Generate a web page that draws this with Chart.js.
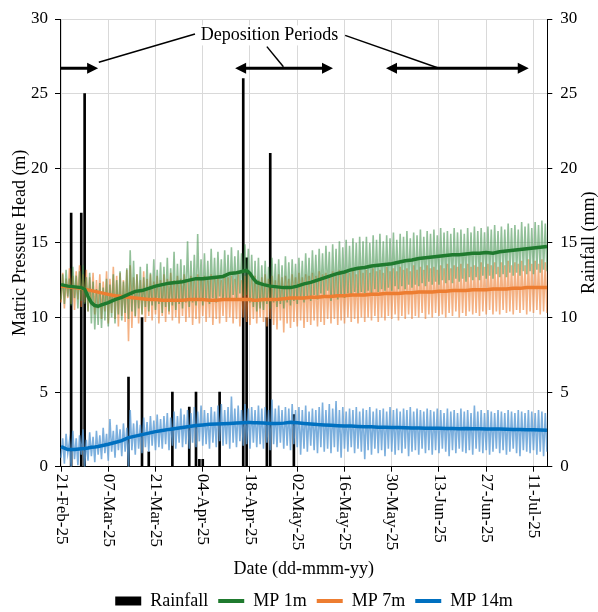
<!DOCTYPE html>
<html lang="en">
<head>
<meta charset="UTF-8">
<title>Matric pressure head and rainfall</title>
<script src="https://cdn.jsdelivr.net/npm/chart.js@4.4.1/dist/chart.umd.min.js"></script>
<style>
    body { margin: 0; background: #fff; }
    #wrap { width: 598px; height: 612px; }
</style>
</head>
<body>
<div id="wrap"><canvas id="grafico" width="598" height="612"></canvas></div>

<script>
// x axis: days since 21-Feb-25
const xTickDays = [0, 14, 28, 42, 56, 70, 84, 98, 112, 126, 140];
const xTickLabels = ['21-Feb-25', '07-Mar-25', '21-Mar-25', '04-Apr-25', '18-Apr-25', '02-May-25',
                     '16-May-25', '30-May-25', '13-Jun-25', '27-Jun-25', '11-Jul-25'];

// daily rainfall (mm)
const rainDays = [3, 6, 7, 20, 24, 26, 33, 38, 40, 41, 42, 47, 54, 55, 61, 62, 69];
const rainMm   = [17, 17, 25, 6, 10, 1, 5, 4, 5, 0.5, 0.5, 5, 26, 14, 10, 21, 3.5];

// raw sensor readings, daily high / low (m), day 0..144
const mp1Hi = [
    12.9, 13.2, 12.6, 13.4, 12.8, 13.1, 13.5, 12.7, 13.0, 12.4,
    11.9, 12.3, 12.0, 12.6, 12.2, 12.9, 12.5, 13.1, 12.4, 13.3,
    14.5, 13.8, 12.9, 13.4, 12.7, 13.6, 13.0, 13.9, 13.2, 13.7,
    13.4, 14.0, 13.3, 14.4, 13.6, 13.9, 13.5, 15.1, 13.8, 14.2,
    15.6, 13.9, 14.3, 13.8, 14.6, 14.0, 14.4, 13.9, 14.5, 14.2,
    14.7, 14.1, 14.5, 14.3, 14.9, 14.6, 14.2, 13.8, 14.0, 13.5,
    13.8, 13.4, 14.0, 13.6, 13.9, 13.5, 14.1, 13.7, 13.9, 13.6,
    14.0, 13.8, 14.3, 14.0, 14.5, 14.2, 14.6, 14.3, 14.8, 14.4,
    14.9, 14.6, 15.1, 14.7, 15.2, 14.8, 15.3, 15.0, 15.4, 15.1,
    15.4, 15.0, 15.5, 15.2, 15.6, 15.1, 15.5, 15.3, 15.7, 15.2,
    15.6, 15.4, 15.8, 15.3, 15.7, 15.5, 15.9, 15.4, 15.8, 15.6,
    15.9, 15.5, 16.0, 15.7, 15.8, 15.6, 16.0, 15.7, 15.9, 15.6,
    16.0, 15.7, 16.1, 15.8, 16.0, 15.7, 16.1, 15.9, 16.2, 15.8,
    16.1, 15.9, 16.3, 16.0, 16.2, 15.9, 16.4, 16.1, 16.3, 16.0,
    16.4, 16.2, 16.5, 16.3, 16.4
];
const mp1Lo = [
    11.2, 10.9, 11.4, 10.8, 11.3, 10.6, 11.1, 10.9, 10.4, 9.6,
    9.2, 9.5, 9.3, 9.8, 9.4, 10.0, 9.6, 10.2, 9.8, 10.3,
    9.9, 10.4, 10.1, 10.6, 10.2, 10.7, 10.4, 10.8, 10.5, 10.9,
    10.3, 10.7, 10.4, 10.8, 10.5, 10.9, 10.6, 11.0, 10.7, 11.0,
    10.8, 11.1, 10.8, 11.2, 10.9, 11.3, 11.0, 11.4, 11.1, 11.3,
    11.2, 11.5, 11.3, 11.6, 11.4, 11.5, 11.0, 10.7, 10.4, 10.6,
    10.5, 10.9, 10.6, 11.0, 10.7, 10.9, 10.6, 11.0, 10.8, 11.1,
    10.9, 11.2, 11.0, 11.4, 11.1, 11.5, 11.2, 11.6, 11.4, 11.8,
    11.1, 11.4, 11.2, 11.5, 11.3, 11.6, 11.4, 11.7, 11.5, 11.7,
    11.6, 11.8, 11.6, 11.9, 11.7, 11.9, 11.8, 12.0, 11.8, 12.1,
    11.9, 12.1, 11.9, 12.2, 12.0, 12.2, 12.1, 12.3, 12.1, 12.4,
    12.2, 12.4, 12.2, 12.5, 12.3, 12.5, 12.3, 12.6, 12.4, 12.6,
    12.4, 12.7, 12.5, 12.7, 12.5, 12.8, 12.6, 12.8, 12.6, 12.9,
    12.7, 12.9, 12.7, 13.0, 12.8, 13.0, 12.8, 13.1, 12.9, 13.1,
    12.9, 13.2, 13.0, 13.2, 13.1
];
const mp7Hi = [
    13.0, 12.6, 13.3, 12.8, 13.1, 13.5, 12.9, 13.2, 12.7, 13.0,
    12.5, 12.9, 12.4, 13.1, 12.6, 13.4, 12.8, 13.0, 12.5, 13.2,
    13.5, 12.7, 12.9, 12.5, 13.1, 12.6, 12.9, 12.4, 12.8, 12.5,
    12.9, 12.6, 13.0, 12.5, 12.8, 12.6, 12.9, 12.4, 12.8, 12.5,
    12.9, 12.6, 12.8, 12.5, 12.9, 12.6, 12.8, 12.5, 12.9, 12.7,
    12.8, 12.6, 12.9, 12.5, 12.8, 12.9, 12.6, 12.8, 12.5, 12.7,
    12.9, 12.6, 12.8, 12.5, 12.9, 12.7, 12.8, 12.6, 12.9, 12.7,
    13.0, 12.7, 12.9, 12.8, 13.0, 12.8, 13.1, 12.9, 13.0, 12.8,
    13.1, 12.9, 13.2, 12.9, 13.1, 13.0, 13.2, 12.9, 13.3, 13.0,
    13.2, 13.0, 13.3, 13.1, 13.2, 13.0, 13.4, 13.1, 13.3, 13.1,
    13.4, 13.2, 13.3, 13.1, 13.5, 13.2, 13.4, 13.2, 13.5, 13.3,
    13.4, 13.2, 13.5, 13.3, 13.6, 13.3, 13.5, 13.4, 13.6, 13.3,
    13.6, 13.4, 13.5, 13.4, 13.7, 13.4, 13.6, 13.5, 13.7, 13.4,
    13.7, 13.5, 13.8, 13.5, 13.7, 13.6, 13.8, 13.5, 13.9, 13.6,
    13.8, 13.6, 13.9, 13.7, 13.8
];
const mp7Lo = [
    11.0, 10.6, 11.3, 10.9, 10.5, 11.2, 10.7, 11.0, 10.4, 10.8,
    10.2, 10.6, 9.9, 10.4, 9.6, 10.3, 9.9, 9.4, 10.1, 9.7,
    8.4, 9.3, 10.0, 9.6, 10.2, 9.7, 10.1, 9.8, 10.2, 9.6,
    10.1, 9.7, 10.2, 9.8, 10.0, 9.6, 10.1, 9.7, 10.0, 9.5,
    9.9, 9.6, 10.1, 9.7, 10.0, 9.5, 9.9, 9.6, 10.1, 9.7,
    10.0, 9.6, 9.9, 9.4, 10.0, 9.7, 9.5, 9.9, 9.6, 10.0,
    9.7, 9.4, 9.9, 9.5, 9.2, 9.8, 9.0, 9.6, 9.3, 9.7,
    9.4, 9.8, 9.3, 9.7, 9.5, 9.8, 9.4, 9.7, 9.5, 9.9,
    9.6, 9.9, 9.5, 9.8, 9.6, 10.0, 9.7, 9.9, 9.6, 10.0,
    9.7, 10.0, 9.8, 10.1, 9.7, 10.0, 9.8, 10.1, 9.9, 10.2,
    9.8, 10.1, 9.9, 10.2, 9.9, 10.1, 10.0, 10.3, 9.9, 10.2,
    10.0, 10.3, 10.1, 10.2, 10.0, 10.3, 10.1, 10.4, 10.0, 10.3,
    10.1, 10.4, 10.2, 10.3, 10.1, 10.4, 10.2, 10.5, 10.2, 10.4,
    10.2, 10.5, 10.3, 10.4, 10.2, 10.5, 10.3, 10.5, 10.2, 10.4,
    10.3, 10.5, 10.2, 10.4, 10.3
];
const mp14Hi = [
    1.9, 2.2, 1.7, 2.4, 1.9, 2.1, 2.5, 1.8, 2.3, 2.0,
    2.4, 2.1, 2.6, 2.2, 3.2, 2.4, 2.8, 2.5, 2.9, 2.6,
    3.8, 2.9, 3.1, 2.8, 3.3, 3.0, 3.4, 3.1, 3.5, 3.2,
    3.4, 3.6, 3.3, 3.7, 3.4, 3.9, 3.5, 3.8, 3.6, 4.0,
    3.7, 4.1, 3.8, 3.6, 4.0, 3.7, 4.1, 4.2, 3.8, 4.0,
    4.7, 3.9, 4.1, 3.8, 4.2, 3.9, 4.0, 3.8, 4.1, 3.9,
    4.0, 3.8, 4.5, 3.9, 4.1, 3.8, 4.0, 3.9, 4.2, 3.8,
    4.0, 3.8, 4.1, 3.7, 3.9, 3.8, 4.0, 4.3, 3.8, 4.2,
    3.9, 4.4, 3.8, 4.0, 3.7, 3.9, 3.8, 4.0, 3.7, 3.9,
    3.8, 4.0, 3.7, 3.9, 3.8, 3.9, 3.7, 4.0, 3.8, 3.9,
    3.7, 3.9, 3.8, 4.0, 3.7, 3.9, 3.8, 3.7, 3.9, 3.8,
    3.7, 3.9, 3.8, 3.6, 3.9, 3.7, 3.8, 3.6, 3.9, 3.7,
    3.8, 3.6, 4.1, 3.7, 3.8, 3.6, 3.8, 3.7, 3.6, 3.8,
    3.7, 3.6, 3.8, 3.7, 3.6, 3.8, 3.7, 3.6, 3.8, 3.7,
    3.6, 3.8, 3.7, 3.6, 3.7
];
const mp14Lo = [
    0.6, 0.2, 0.9, 0.0, 0.5, 0.1, 0.8, 0.0, 0.4, 0.7,
    0.3, 0.8, 0.5, 0.9, 0.4, 1.0, 0.6, 1.1, 0.7, 1.0,
    0.0, 1.1, 0.8, 1.2, 0.9, 1.3, 1.0, 1.4, 1.1, 1.3,
    1.2, 1.5, 1.1, 1.4, 1.2, 1.6, 1.3, 1.5, 1.2, 1.6,
    1.3, 1.7, 1.4, 1.5, 1.2, 1.6, 1.3, 1.7, 1.4, 1.5,
    1.2, 1.6, 1.3, 1.7, 1.4, 1.5, 1.2, 1.6, 1.3, 1.5,
    1.2, 1.6, 1.1, 1.5, 1.3, 1.6, 1.2, 1.4, 1.1, 1.5,
    1.3, 0.8, 1.2, 1.0, 1.4, 1.1, 0.9, 1.3, 1.0, 1.2,
    0.9, 1.3, 1.0, 0.6, 1.2, 1.0, 1.3, 0.9, 1.2, 1.0,
    0.5, 1.1, 0.8, 1.2, 0.9, 1.1, 0.7, 1.2, 1.0, 0.8,
    1.1, 0.9, 1.2, 0.7, 1.0, 1.1, 0.8, 1.2, 0.9, 1.1,
    0.8, 1.1, 0.9, 1.2, 1.0, 0.7, 1.1, 0.9, 1.2, 1.0,
    0.9, 1.1, 0.8, 1.2, 1.0, 0.9, 1.1, 0.8, 1.0, 1.2,
    0.9, 1.1, 0.8, 1.0, 1.2, 0.9, 0.7, 1.1, 1.0, 0.9,
    1.1, 0.8, 1.0, 0.7, 1.0
];

// smoothed trend lines (m)
const smoothDays = [
    0, 2, 4, 6, 7, 8, 9, 10, 11, 12,
    14, 16, 18, 20, 22, 24, 26, 28, 30, 32,
    34, 36, 38, 40, 42, 44, 46, 48, 50, 52,
    54, 55, 56, 57, 58, 60, 62, 64, 66, 68,
    70, 72, 74, 76, 78, 80, 82, 84, 86, 88,
    90, 92, 94, 96, 98, 100, 102, 104, 106, 108,
    110, 112, 114, 116, 118, 120, 122, 124, 126, 128,
    130, 132, 134, 136, 138, 140, 142, 144
];
const mp1Smooth = [
    12.2, 12.1, 12.05, 12.0, 11.9, 11.4, 11.0, 10.8, 10.75, 10.85,
    11.0, 11.2, 11.35, 11.55, 11.75, 11.8, 11.95, 12.1, 12.2, 12.3,
    12.35, 12.4, 12.5, 12.6, 12.6, 12.65, 12.7, 12.75, 12.95, 13.0,
    13.1, 13.15, 12.95, 12.6, 12.35, 12.2, 12.1, 12.05, 12.0, 12.0,
    12.1, 12.25, 12.35, 12.5, 12.65, 12.8, 12.95, 13.05, 13.2, 13.3,
    13.35, 13.45, 13.5, 13.55, 13.6, 13.7, 13.8, 13.85, 13.95, 14.0,
    14.05, 14.1, 14.15, 14.2, 14.2, 14.25, 14.3, 14.3, 14.35, 14.3,
    14.4, 14.45, 14.5, 14.55, 14.6, 14.65, 14.7, 14.75
];
const mp7Smooth = [
    12.1, 12.05, 12.0, 11.95, 11.9, 11.85, 11.8, 11.75, 11.7, 11.65,
    11.55, 11.45, 11.4, 11.35, 11.3, 11.25, 11.2, 11.2, 11.15, 11.15,
    11.15, 11.15, 11.2, 11.2, 11.2, 11.15, 11.15, 11.2, 11.2, 11.2,
    11.2, 11.2, 11.2, 11.15, 11.15, 11.2, 11.2, 11.2, 11.25, 11.3,
    11.3, 11.3, 11.35, 11.35, 11.4, 11.4, 11.45, 11.45, 11.5, 11.5,
    11.5, 11.55, 11.55, 11.6, 11.6, 11.6, 11.65, 11.65, 11.7, 11.7,
    11.7, 11.75, 11.75, 11.8, 11.8, 11.8, 11.85, 11.85, 11.85, 11.9,
    11.9, 11.9, 11.95, 11.95, 12.0, 12.0, 12.0, 12.0
];
const mp14Smooth = [
    1.35, 1.15, 1.15, 1.2, 1.22, 1.25, 1.3, 1.32, 1.35, 1.4,
    1.5, 1.62, 1.75, 1.95, 2.05, 2.15, 2.25, 2.35, 2.42, 2.5,
    2.56, 2.63, 2.7, 2.76, 2.8, 2.84, 2.86, 2.88, 2.9, 2.93,
    2.95, 2.96, 2.96, 2.95, 2.95, 2.93, 2.9, 2.9, 2.92, 2.98,
    2.95, 2.9, 2.86, 2.82, 2.8, 2.77, 2.75, 2.73, 2.72, 2.7,
    2.68, 2.67, 2.65, 2.64, 2.63, 2.62, 2.61, 2.6, 2.59, 2.58,
    2.57, 2.57, 2.56, 2.56, 2.55, 2.56, 2.55, 2.54, 2.53, 2.52,
    2.53, 2.51, 2.5, 2.49, 2.48, 2.47, 2.46, 2.45
];

const legendLabels = ['Rainfall', 'MP 1m', 'MP 7m', 'MP 14m'];

const serif = "'Liberation Serif', 'Times New Roman', serif";

// low at day d, high half a day later
function zigzag(lo, hi) {
    const pts = [];
    lo.forEach((v, d) => {
        pts.push({x: d, y: v});
        pts.push({x: d + 0.5, y: hi[d]});
    });
    return pts;
}
function pontos(xs, ys) {
    return xs.map((x, i) => ({x: x, y: ys[i]}));
}

function linha(label, data, cor, largura, ordem) {
    return {
        type: 'line', label: label, data: data,
        borderColor: cor, borderWidth: largura,
        pointRadius: 0, pointHoverRadius: 0, tension: 0,
        yAxisID: 'y', order: ordem
    };
}

// annotation: "Deposition Periods" with arrows (in days / metres)
const setaY = 26.7;
const periodos = [[-0.3, 11.0, false], [51.6, 80.6, true], [96.3, 138.6, true]];
const guias = [[[39.7, 29.0], [11.2, 27.1]], [[61.0, 28.15], [65.9, 26.8]], [[84.2, 28.9], [112.0, 26.7]]];

function ponta(ctx, x, y, dir) {
    ctx.beginPath();
    ctx.moveTo(x, y);
    ctx.lineTo(x - dir * 11, y - 5.5);
    ctx.lineTo(x - dir * 11, y + 5.5);
    ctx.closePath();
    ctx.fill();
}

const extras = {
    id: 'extras',
    afterLayout(chart) {
        const lg = chart.legend;
        lg.top += 8; lg.bottom += 8;
        lg.left += 15; lg.right += 15;
    },
    afterDatasetsDraw(chart) {
        const {ctx, scales: {x, y}} = chart;
        ctx.save();
        ctx.fillStyle = '#000';
        ctx.strokeStyle = '#000';
        const py = y.getPixelForValue(setaY);
        periodos.forEach(([a, b, duplo]) => {
            const xa = x.getPixelForValue(a), xb = x.getPixelForValue(b);
            ctx.lineWidth = 3;
            ctx.beginPath();
            ctx.moveTo(duplo ? xa + 9 : xa, py);
            ctx.lineTo(xb - 9, py);
            ctx.stroke();
            ponta(ctx, xb, py, 1);
            if (duplo) ponta(ctx, xa, py, -1);
        });
        ctx.lineWidth = 1.5;
        guias.forEach(([p, q]) => {
            ctx.beginPath();
            ctx.moveTo(x.getPixelForValue(p[0]), y.getPixelForValue(p[1]));
            ctx.lineTo(x.getPixelForValue(q[0]), y.getPixelForValue(q[1]));
            ctx.stroke();
        });
        // white box behind the text
        ctx.font = '18px ' + serif;
        ctx.textAlign = 'center';
        ctx.textBaseline = 'middle';
        const tx = x.getPixelForValue(61.8), ty = y.getPixelForValue(28.9);
        const w = ctx.measureText('Deposition Periods').width;
        ctx.fillStyle = '#fff';
        ctx.fillRect(tx - w / 2 - 3, ty - 10, w + 6, 20);
        ctx.fillStyle = '#000';
        ctx.fillText('Deposition Periods', tx, ty);
        ctx.restore();
    },
    afterDraw(chart) {
        const {ctx, chartArea, scales: {x}} = chart;
        ctx.save();
        ctx.fillStyle = '#000';
        ctx.font = '17px ' + serif;
        ctx.textAlign = 'left';
        ctx.textBaseline = 'middle';
        xTickDays.forEach((d, i) => {
            ctx.save();
            ctx.translate(x.getPixelForValue(d), chartArea.bottom + 7);
            ctx.rotate(Math.PI / 2);
            ctx.fillText(xTickLabels[i], 0, 0);
            ctx.restore();
        });
        // right axis title, read bottom to top
        ctx.font = '18px ' + serif;
        ctx.textAlign = 'center';
        ctx.translate(589, (chartArea.top + chartArea.bottom) / 2);
        ctx.rotate(-Math.PI / 2);
        ctx.fillText('Rainfall (mm)', 0, 0);
        ctx.restore();
    }
};

const config = {
    type: 'line',
    data: {
        datasets: [
            {
                type: 'bar', label: 'Rainfall', data: pontos(rainDays, rainMm),
                backgroundColor: '#000', borderWidth: 0, barThickness: 2,
                yAxisID: 'y2', order: 3
            },
            linha('MP 1m', pontos(smoothDays, mp1Smooth), '#1f7a2e', 3.5, 0),
            linha('MP 7m', pontos(smoothDays, mp7Smooth), '#ed7d31', 3.5, 0),
            linha('MP 14m', pontos(smoothDays, mp14Smooth), '#0070c0', 3.5, 0),
            linha('MP 1m raw', zigzag(mp1Lo, mp1Hi), 'rgba(56,140,70,0.55)', 1.6, 1),
            linha('MP 7m raw', zigzag(mp7Lo, mp7Hi), 'rgba(237,125,49,0.6)', 1.6, 1),
            linha('MP 14m raw', zigzag(mp14Lo, mp14Hi), 'rgba(91,155,213,0.8)', 1.6, 1)
        ]
    },
    options: {
        responsive: false,
        animation: false,
        devicePixelRatio: 1,
        layout: { padding: { top: 19, left: 0, right: 0, bottom: 0 } },
        plugins: {
            tooltip: { enabled: false },
            legend: {
                position: 'bottom',
                labels: {
                    usePointStyle: true, pointStyleWidth: 26, boxHeight: 9,
                    padding: 10, color: '#000',
                    font: { family: serif, size: 18 },
                    filter: item => legendLabels.includes(item.text),
                    sort: (a, b) => a.datasetIndex - b.datasetIndex,
                    generateLabels(chart) {
                        const itens = Chart.defaults.plugins.legend.labels.generateLabels(chart);
                        itens.forEach(it => {
                            const ds = chart.data.datasets[it.datasetIndex];
                            if (ds.type === 'bar') {
                                it.pointStyle = 'rect'; it.fillStyle = '#000'; it.lineWidth = 0;
                            } else {
                                it.pointStyle = 'line'; it.strokeStyle = ds.borderColor; it.lineWidth = 4;
                            }
                        });
                        return itens;
                    }
                }
            }
        },
        scales: {
            x: {
                type: 'linear', min: -0.3, max: 144.1, offset: false,
                afterBuildTicks: s => { s.ticks = xTickDays.map(v => ({value: v})); },
                afterFit: s => { s.height = 612 - 466.7 - s.chart.legend.height; },
                ticks: { display: false },
                grid: { color: '#d9d9d9', tickColor: '#000', tickLength: 5, offset: false },
                border: { color: '#000', width: 1 },
                title: {
                    display: true, text: 'Date (dd-mmm-yy)', color: '#000',
                    font: { family: serif, size: 18, lineHeight: 1 },
                    padding: { top: 0, bottom: -4 }
                }
            },
            y: {
                position: 'left', min: 0, max: 30,
                afterFit: s => { s.width = 60; },
                ticks: { stepSize: 5, color: '#000', padding: 7, font: { family: serif, size: 17 } },
                grid: { color: '#d9d9d9', tickColor: '#000', tickLength: 5 },
                border: { color: '#000', width: 1 },
                title: {
                    display: true, text: 'Matric Pressure Head (m)', color: '#000',
                    font: { family: serif, size: 18 },
                    padding: { top: 9, bottom: 0 }
                }
            },
            y2: {
                position: 'right', min: 0, max: 30,
                afterFit: s => { s.width = 50.7; },
                ticks: { stepSize: 5, color: '#000', padding: 8, font: { family: serif, size: 17 } },
                grid: { drawOnChartArea: false, tickColor: '#000', tickLength: 5 },
                border: { color: '#000', width: 1 }
            }
        }
    },
    plugins: [extras]
};

new Chart(document.getElementById('grafico'), config);
</script>
</body>
</html>
